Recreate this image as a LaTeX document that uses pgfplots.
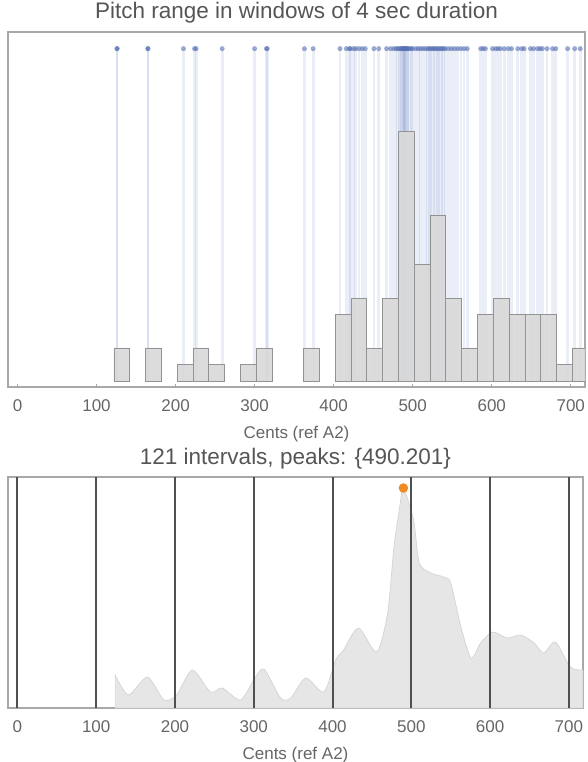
\documentclass[border=0pt]{standalone}
\usepackage{pgfplots}
\pgfplotsset{compat=1.18}
\usepackage{fontspec}
\setmainfont{Liberation Sans}
\definecolor{frame}{HTML}{A8A8A8}
\definecolor{txt}{HTML}{555555}
\definecolor{ticktxt}{HTML}{666666}
\definecolor{stem}{HTML}{5A78BE}
\definecolor{dotc}{HTML}{5670B4}
\definecolor{barc}{HTML}{D9D9D9}
\definecolor{baredge}{HTML}{939393}
\definecolor{dens}{HTML}{E6E6E6}
\definecolor{densedge}{HTML}{D4D4D4}
\definecolor{gridc}{HTML}{505050}
\definecolor{peakc}{HTML}{F08A24}
\pgfplotsset{
  common/.style={
    scale only axis,
    xmin=-12, xmax=718,
    xtick={0,100,...,700},
    ytick=\empty,
    xtick pos=left,
    tick align=inside,
    major tick length=3pt,
    tick style={frame, line width=0.8pt},
    axis line style={frame, line width=1.5pt},
    /pgf/number format/assume math mode=true,
    xticklabel style={font=\fontsize{17}{20}\selectfont, text=ticktxt, anchor=base, yshift=-24pt},
    xlabel style={font=\fontsize{17}{20}\selectfont, text=ticktxt, at={(axis description cs:0.5,0)}, anchor=base, yshift=-51pt},
    title style={font=\fontsize{22.5}{26}\selectfont, text=txt, at={(axis description cs:0.5,1)}, anchor=base, yshift=7pt},
    clip=true,
  }
}
\begin{document}
\begin{tikzpicture}
\useasboundingbox (0,0) rectangle (588pt,-762pt);
% ---------------- top panel ----------------
\begin{axis}[common, at={(8pt,-32pt)}, anchor=north west,
  width=577pt, height=355pt, ymin=-0.35, ymax=21,
  title={Pitch range in windows of 4 sec duration},
  xlabel={Cents (ref A2)}]
\pgfplotsinvokeforeach{126,126,165,165,210,224,226,259,300,315,316,363,374,
  408,416,420,421,425,428,432,436,440,451,457,467,472,476,479,481,
  483,485,486,487,488,489,490,490,491,492,493,494,496,498,500,
  504,507,510,513,516,519,521,523,525,527,529,531,533,535,537,539,541,
  545,549,553,557,561,565,569,586,589,592,601,605,608,611,616,621,
  625,633,638,641,649,653,658,661,664,670,677,681,696,705,712}{
  \addplot[stem, line width=2.8pt, opacity=0.13, forget plot] coordinates {(#1,0) (#1,20)};
}
\addplot[only marks, mark=*, mark size=2.5pt, color=dotc, fill opacity=0.6, draw opacity=0] coordinates {
(126,20)(126,20)(165,20)(165,20)(210,20)(224,20)(226,20)(259,20)(300,20)(315,20)(316,20)(363,20)(374,20)
(408,20)(416,20)(420,20)(421,20)(425,20)(428,20)(432,20)(436,20)(440,20)(451,20)(457,20)(467,20)(472,20)(476,20)(479,20)(481,20)
(483,20)(485,20)(486,20)(487,20)(488,20)(489,20)(490,20)(490,20)(491,20)(492,20)(493,20)(494,20)(496,20)(498,20)(500,20)
(504,20)(507,20)(510,20)(513,20)(516,20)(519,20)(521,20)(523,20)(525,20)(527,20)(529,20)(531,20)(533,20)(535,20)(537,20)(539,20)(541,20)
(545,20)(549,20)(553,20)(557,20)(561,20)(565,20)(569,20)(586,20)(589,20)(592,20)(601,20)(605,20)(608,20)(611,20)(616,20)(621,20)
(625,20)(633,20)(638,20)(641,20)(649,20)(653,20)(658,20)(661,20)(664,20)(670,20)(677,20)(681,20)(696,20)(705,20)(712,20)};
\addplot[ybar, bar width=20, bar shift=0pt, fill=barc, fill opacity=0.92, draw=baredge, line width=0.8pt] coordinates {
(132,2)(172,2)(212,1)(232,2)(252,1)(292,1)(312,2)(372,2)(412,4)(432,5)(452,2)(472,5)(492,15)(512,7)
(532,10)(552,5)(572,2)(592,4)(612,5)(632,4)(652,4)(672,4)(692,1)(712,2)};
\end{axis}
% ---------------- bottom panel ----------------
\begin{axis}[common, at={(8pt,-477pt)}, anchor=north west,
  width=575pt, height=231pt, ymin=0, ymax=231,
  title={121 intervals, peaks: \{490.201\}},
  xlabel={Cents (ref A2)}]
\addplot[fill=dens, draw=densedge, line width=0.7pt, smooth, tension=0.45] coordinates {
(124,33)(141,13)(165,31)(186,8)(202,13)(222,38)(245,16)(260,20)(283,8)(300,28)(313,39)(334,10)
(347,10)(366,30)(389,16)(404,48)(414,58)(433,80)(456,56)(470,95)(478,161)(486,205)(490,220)(503,188)
(510,145)(525,135)(541,131)(550,125)(563,81)(576,50)(588,65)(603,76)(622,70)(639,73)(656,65)
(668,55)(683,66)(702,41)(718,38)} \closedcycle;
\addplot[ycomb, color=gridc, line width=2pt] coordinates {
(0,231)(100,231)(200,231)(300,231)(400,231)(500,231)(600,231)(700,231)};
\addplot[only marks, mark=*, mark size=4.5pt, color=peakc] coordinates {(490,220)};
\end{axis}
\end{tikzpicture}
\end{document}
